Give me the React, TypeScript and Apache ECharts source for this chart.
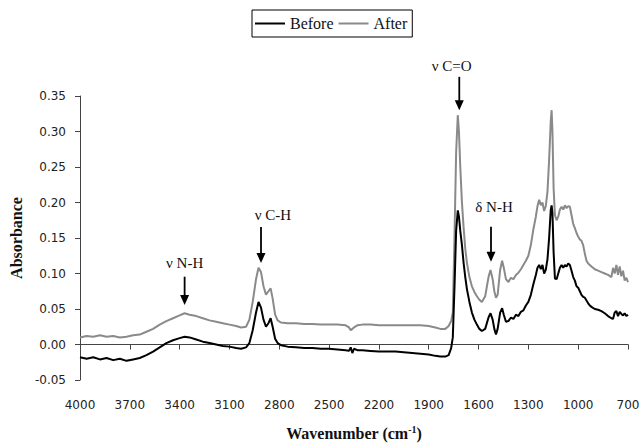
import { useEffect, useRef } from "react";
import * as echarts from "echarts";

// Wavenumber grid (cm-1) shared by both spectra
const wavenumbers = [
  4000, 3960, 3920, 3880, 3840, 3800, 3760, 3720, 3680, 3640, 3600, 3560, 3520, 3480, 3440, 3400,
  3370, 3340, 3300, 3260, 3220, 3180, 3140, 3100, 3060, 3030, 3000, 2980, 2960, 2940, 2925, 2910,
  2895, 2880, 2865, 2852, 2840, 2825, 2810, 2790, 2750, 2700, 2650, 2600, 2550, 2500, 2450, 2400,
  2380, 2370, 2360, 2350, 2330, 2300, 2250, 2200, 2150, 2100, 2050, 2000, 1950, 1900, 1860, 1830,
  1800, 1780, 1765, 1755, 1745, 1735, 1725, 1718, 1710, 1700, 1690, 1680, 1670, 1655, 1640, 1625,
  1610, 1595, 1580, 1560, 1540, 1528, 1515, 1505, 1495, 1485, 1470, 1458, 1448, 1435, 1420, 1405,
  1390, 1375, 1360, 1345, 1330, 1315, 1300, 1285, 1270, 1255, 1245, 1235, 1225, 1215, 1205, 1195,
  1185, 1175, 1165, 1160, 1155, 1148, 1140, 1130, 1120, 1110, 1100, 1090, 1080, 1070, 1060, 1050,
  1040, 1030, 1020, 1010, 1000, 990, 980, 970, 960, 950, 940, 930, 920, 900, 880, 860,
  840, 820, 800, 790, 780, 770, 760, 750, 740, 730, 720, 710, 700,
];

// Absorbance before treatment
const before = [
  -0.018, -0.02, -0.018, -0.021, -0.019, -0.022, -0.02, -0.023, -0.021, -0.019, -0.015, -0.01, -0.004, 0.002, 0.006, 0.009,
  0.011, 0.01, 0.007, 0.004, 0.002, 0.0, -0.002, -0.003, -0.005, -0.006, -0.004, 0.002, 0.02, 0.045, 0.06, 0.052,
  0.035, 0.025, 0.03, 0.037, 0.025, 0.008, 0.002, -0.001, -0.003, -0.004, -0.005, -0.005, -0.006, -0.006, -0.007, -0.008,
  -0.009, -0.004, -0.012, -0.006, -0.008, -0.008, -0.009, -0.01, -0.01, -0.01, -0.011, -0.012, -0.013, -0.014, -0.016, -0.017,
  -0.017, -0.015, -0.005, 0.01, 0.08, 0.16, 0.189, 0.18, 0.16, 0.14, 0.115, 0.095, 0.078, 0.06, 0.045, 0.035,
  0.028, 0.022, 0.019, 0.022, 0.038, 0.044, 0.035, 0.022, 0.014, 0.022, 0.045, 0.051, 0.042, 0.032, 0.033, 0.038,
  0.036, 0.042, 0.04, 0.046, 0.048, 0.055, 0.06, 0.07, 0.085, 0.098, 0.108, 0.112, 0.106, 0.112, 0.1, 0.105,
  0.12, 0.15, 0.19, 0.196, 0.185, 0.13, 0.093, 0.092, 0.1, 0.108, 0.112, 0.108, 0.112, 0.11, 0.114, 0.112,
  0.104, 0.095, 0.09, 0.082, 0.08, 0.075, 0.07, 0.067, 0.066, 0.062, 0.058, 0.055, 0.053, 0.05, 0.049, 0.047,
  0.044, 0.04, 0.037, 0.036, 0.045, 0.047, 0.04, 0.046, 0.043, 0.041, 0.044, 0.04, 0.042,
];

// Absorbance after treatment
const after = [
  0.01, 0.012, 0.011, 0.013, 0.011, 0.012, 0.01, 0.011, 0.013, 0.014, 0.018, 0.022, 0.028, 0.033, 0.037, 0.041,
  0.044, 0.042, 0.04, 0.037, 0.034, 0.032, 0.03, 0.028, 0.026, 0.024, 0.025, 0.035, 0.06, 0.092, 0.108, 0.102,
  0.082, 0.07, 0.075, 0.079, 0.065, 0.042, 0.034, 0.031, 0.03, 0.03, 0.029, 0.029, 0.028, 0.028, 0.028, 0.027,
  0.024, 0.02, 0.022, 0.024, 0.027, 0.028, 0.028, 0.027, 0.027, 0.027, 0.027, 0.027, 0.027, 0.026, 0.024, 0.022,
  0.022, 0.026, 0.033, 0.045, 0.15, 0.27, 0.323, 0.3, 0.25, 0.2, 0.165, 0.135, 0.115, 0.095, 0.082, 0.074,
  0.068, 0.063, 0.06, 0.068, 0.095, 0.105, 0.092, 0.075, 0.066, 0.07, 0.105, 0.118, 0.108, 0.092, 0.088, 0.094,
  0.092, 0.098, 0.101, 0.106, 0.112, 0.118, 0.125, 0.14, 0.162, 0.18, 0.195, 0.204, 0.196, 0.2, 0.188, 0.195,
  0.215, 0.26, 0.315, 0.33, 0.3, 0.22, 0.182, 0.175, 0.18, 0.19, 0.194, 0.19, 0.196, 0.192, 0.195, 0.194,
  0.182, 0.17, 0.164, 0.157, 0.152, 0.148, 0.146, 0.14, 0.128, 0.118, 0.114, 0.112, 0.11, 0.106, 0.104, 0.102,
  0.1, 0.098, 0.095, 0.108, 0.1, 0.112, 0.098, 0.11, 0.096, 0.104, 0.09, 0.094, 0.088,
];

// Band assignments: arrow from (wn, top) down to (wn, tip), label centred at (labelWn, labelA)
const bandLabels = ["ν N-H", "ν C-H", "ν C=O", "δ N-H"];
const bandWn = [3370, 2910, 1716, 1525];
const bandTop = [0.0955, 0.1655, 0.377, 0.166];
const bandTip = [0.0556, 0.1148, 0.33, 0.1166];
const bandLabelWn = [3370, 2838, 1762, 1507];
const bandLabelA = [0.115, 0.1824, 0.392, 0.194];

const WN_START = 4000;
const WN_END = 700;
const toAxis = (wn: number) => WN_START - wn;

const SERIF = "'Liberation Serif', 'Times New Roman', serif";
const SANS = "'DejaVu Sans', Verdana, sans-serif";

export default function App() {
  const ref = useRef<HTMLDivElement>(null);

  useEffect(() => {
    if (!ref.current) return;
    const chart = echarts.init(ref.current, undefined, { renderer: "svg" });

    chart.setOption({
      animation: false,
      backgroundColor: "#fff",
      legend: {
        left: 252,
        top: 10,
        padding: [5, 5, 5, 3],
        borderColor: "#000",
        borderWidth: 1,
        icon: "rect",
        itemWidth: 30,
        itemHeight: 2,
        itemGap: 5,
        textStyle: { fontFamily: SERIF, fontSize: 16, color: "#111", lineHeight: 17 },
        data: ["Before", "After"],
      },
      grid: {
        left: 80,
        right: 13,
        top: 96,
        bottom: 64,
        containLabel: false,
        outerBoundsMode: "none",
      },
      xAxis: {
        type: "value",
        min: 0,
        max: WN_START - WN_END,
        interval: 300,
        splitLine: { show: false },
        axisLine: { lineStyle: { color: "#444", width: 1 } },
        axisTick: { show: true, inside: false, length: 5, lineStyle: { color: "#444" } },
        axisLabel: {
          margin: 19,
          fontFamily: SANS,
          fontSize: 12,
          color: "#222",
          formatter: (v: number) => String(WN_START - v),
        },
        name: "Wavenumber (cm{sup|-1})",
        nameLocation: "middle",
        nameGap: 44,
        nameTextStyle: {
          fontFamily: SERIF,
          fontSize: 16,
          fontWeight: "bold",
          color: "#111",
          rich: {
            sup: {
              fontFamily: SERIF,
              fontSize: 10,
              fontWeight: "bold",
              color: "#111",
              padding: [0, 0, 9, 0],
            },
          },
        },
      },
      yAxis: {
        type: "value",
        min: -0.05,
        max: 0.35,
        interval: 0.05,
        splitLine: { show: false },
        axisLine: { show: true, lineStyle: { color: "#444", width: 1 } },
        axisTick: { show: true, inside: false, length: 5, lineStyle: { color: "#444" } },
        axisLabel: {
          margin: 14,
          fontFamily: SANS,
          fontSize: 12,
          color: "#222",
          formatter: (v: number) => v.toFixed(2),
        },
        name: "Absorbance",
        nameLocation: "middle",
        nameGap: 54,
        nameTextStyle: { fontFamily: SERIF, fontSize: 16, fontWeight: "bold", color: "#111" },
      },
      series: [
        {
          name: "Before",
          type: "line",
          symbol: "none",
          data: wavenumbers.map((wn, i) => [toAxis(wn), before[i]]),
          lineStyle: { color: "#000", width: 2 },
          itemStyle: { color: "#000" },
          z: 3,
        },
        {
          name: "After",
          type: "line",
          symbol: "none",
          data: wavenumbers.map((wn, i) => [toAxis(wn), after[i]]),
          lineStyle: { color: "#8a8a8a", width: 2 },
          itemStyle: { color: "#8a8a8a" },
          z: 2,
        },
      ],
    });

    // Band arrows and labels, positioned through the grid's own scales
    const px = (wn: number, a: number) =>
      chart.convertToPixel({ gridIndex: 0 }, [toAxis(wn), a]) as number[];
    const graphics: any[] = [];
    bandLabels.forEach((label, i) => {
      const [x, yTop] = px(bandWn[i], bandTop[i]);
      const [, yTip] = px(bandWn[i], bandTip[i]);
      const [lx, ly] = px(bandLabelWn[i], bandLabelA[i]);
      graphics.push({
        type: "line",
        shape: { x1: x, y1: yTop, x2: x, y2: yTip - 8 },
        style: { stroke: "#000", lineWidth: 1.8 },
        z: 10,
      });
      graphics.push({
        type: "polygon",
        shape: { points: [[x - 4.5, yTip - 10], [x + 4.5, yTip - 10], [x, yTip]] },
        style: { fill: "#000" },
        z: 10,
      });
      graphics.push({
        type: "text",
        x: lx,
        y: ly,
        style: {
          text: label,
          fontFamily: SERIF,
          fontSize: 15,
          fill: "#111",
          textAlign: "center",
          textVerticalAlign: "middle",
        },
        z: 10,
      });
    });
    chart.setOption({ graphic: graphics });

    return () => chart.dispose();
  }, []);

  return <div ref={ref} style={{ width: 641, height: 444, position: "absolute", left: 0, top: 0 }} />;
}
